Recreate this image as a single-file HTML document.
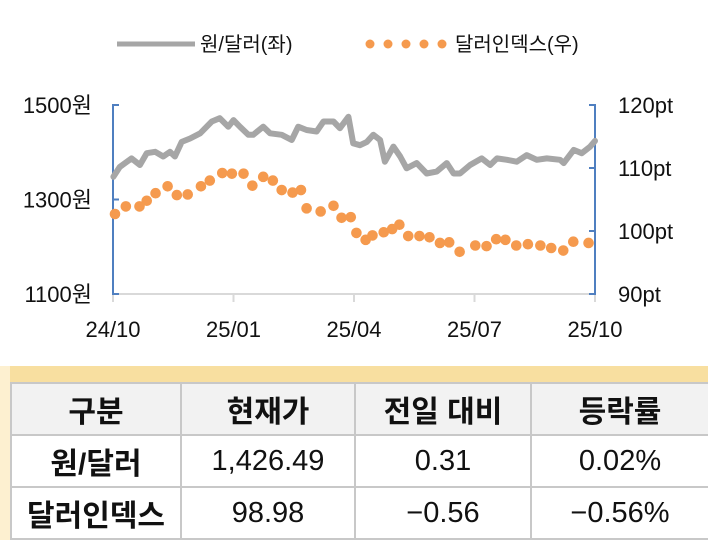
<!DOCTYPE html>
<html><head><meta charset="utf-8"><style>
body{margin:0;width:708px;height:540px;background:#fff;overflow:hidden;font-family:"Liberation Sans","Noto Sans CJK KR",sans-serif}
svg{position:absolute;left:0;top:0}
text{font-family:"Liberation Sans","Noto Sans CJK KR",sans-serif}
#tbl{position:absolute;left:0;top:366px;width:708px;height:174px}
.band{position:absolute;left:10px;top:0;width:698px;height:16px;background:#f8dfa0}
.side{position:absolute;left:0;top:0;width:10px;height:174px;background:#fdf0d0}
table{position:absolute;left:10px;top:16px;width:698px;border-collapse:collapse;table-layout:fixed}
td{border:2px solid #c8c8c8;text-align:center;font-size:29px;height:50px;padding:0;color:#111}
tr.h td{background:#f2f2f2;font-weight:bold;font-size:30px}
td.b{font-weight:bold;font-size:30px}
</style></head><body>
<svg id="chart" width="708" height="340"></svg>
<div id="tbl">
<div class="side"></div>
<div class="band"></div>
<table>
<colgroup><col style="width:170px"><col style="width:174px"><col style="width:176px"><col style="width:178px"></colgroup>
<tr class="h"><td>구분</td><td>현재가</td><td>전일 대비</td><td>등락률</td></tr>
<tr><td class="b">원/달러</td><td>1,426.49</td><td>0.31</td><td>0.02%</td></tr>
<tr><td class="b">달러인덱스</td><td>98.98</td><td>−0.56</td><td>−0.56%</td></tr>
</table></div>
<script>
const xTickLabels=["24/10","25/01","25/04","25/07","25/10"];
const xTickMonths=[0,3,6,9,12];
const leftTicks=[1100,1300,1500];
const rightTicks=[90,100,110,120];
const wonMonths=[0.01,0.17,0.46,0.67,0.84,1.05,1.25,1.42,1.54,1.71,1.92,2.17,2.46,2.66,2.87,3.00,3.16,3.37,3.49,3.74,3.91,4.20,4.45,4.61,4.82,5.07,5.24,5.49,5.65,5.86,5.98,6.15,6.32,6.48,6.65,6.77,6.98,7.15,7.31,7.56,7.81,8.06,8.31,8.48,8.64,8.89,9.18,9.39,9.56,9.81,10.05,10.30,10.55,10.80,11.13,11.22,11.47,11.67,11.88,12.0];
const wonValues=[1348,1369,1387,1373,1398,1401,1391,1401,1391,1422,1429,1440,1465,1472,1454,1468,1454,1437,1437,1454,1440,1437,1426,1454,1447,1444,1465,1465,1451,1475,1419,1415,1422,1437,1426,1380,1412,1391,1366,1377,1355,1359,1377,1355,1355,1373,1387,1373,1387,1384,1380,1394,1384,1387,1384,1377,1405,1398,1412,1424];
const dxyMonths=[0.05,0.32,0.66,0.84,1.06,1.36,1.59,1.86,2.19,2.41,2.72,2.96,3.25,3.47,3.74,3.98,4.20,4.47,4.68,4.82,5.17,5.49,5.69,5.92,6.06,6.29,6.46,6.74,6.95,7.13,7.35,7.63,7.88,8.14,8.37,8.63,9.02,9.30,9.54,9.77,10.04,10.33,10.64,10.91,11.21,11.46,11.84];
const dxyValues=[102.7,103.9,103.9,104.8,106.0,107.1,105.7,105.8,107.1,108.0,109.2,109.1,109.1,107.2,108.6,108.0,106.5,106.1,106.5,103.6,103.1,104.0,102.1,102.2,99.7,98.6,99.3,99.8,100.3,101.0,99.2,99.2,99.0,98.1,98.2,96.7,97.7,97.6,98.7,98.6,97.7,97.9,97.7,97.3,96.9,98.3,98.1];
const NS="http://www.w3.org/2000/svg";
const svg=document.getElementById('chart');
const X0=113,X1=595,YT=105,YB=294;
const xs=m=>X0+(X1-X0)*m/12;
const yl=v=>YB-(v-1100)/400*(YB-YT);
const yr=v=>YB-(v-90)/30*(YB-YT);
function mk(t,a){const e=document.createElementNS(NS,t);for(const k in a)e.setAttribute(k,a[k]);svg.appendChild(e);return e;}
let ax=mk('line',{x1:X0,x2:X1,y1:YB,y2:YB,stroke:'#d9d9d9','stroke-width':2});


xTickMonths.forEach((m,i)=>{
 let t=mk('line',{x1:xs(m),x2:xs(m),y1:YB,y2:YB+8,stroke:'#d9d9d9','stroke-width':2});
 
 
 let l=mk('text',{x:xs(m),y:337,'text-anchor':'middle','font-size':22,fill:'#111'});
 l.textContent=xTickLabels[i];
 
 
});
let la=mk('line',{x1:X0,x2:X0,y1:YT,y2:YB,stroke:'#4f7fc0','stroke-width':2});


leftTicks.forEach(v=>{
 let t=mk('line',{x1:X0-1,x2:X0+6,y1:yl(v),y2:yl(v),stroke:'#4f7fc0','stroke-width':2});
 
 
 let l=mk('text',{x:92,y:yl(v)+8,'text-anchor':'end','font-size':22,fill:'#111'});
 l.textContent=v+'원';
 
 
});
let ra=mk('line',{x1:X1,x2:X1,y1:YT,y2:YB,stroke:'#4f7fc0','stroke-width':2});


rightTicks.forEach(v=>{
 let t=mk('line',{x1:X1+1,x2:X1-6,y1:yr(v),y2:yr(v),stroke:'#4f7fc0','stroke-width':2});
 
 
 let l=mk('text',{x:618,y:yr(v)+8,'font-size':22,fill:'#111'});
 l.textContent=v+'pt';
 
 
});
let d=wonMonths.map((m,i)=>(i?'L':'M')+xs(m).toFixed(1)+' '+yl(wonValues[i]).toFixed(1)).join(' ');
let p=mk('path',{d:d,fill:'none',stroke:'#a6a6a6','stroke-width':6,'stroke-linejoin':'round','stroke-linecap':'round'});


dxyMonths.forEach((m,i)=>{
 let c=mk('circle',{cx:xs(m),cy:yr(dxyValues[i]),r:5.3,fill:'#f59a4e'});
 
 
});
let lg=mk('line',{x1:117,x2:195,y1:44,y2:44,stroke:'#a6a6a6','stroke-width':5});


let lt=mk('text',{x:200,y:51,'font-size':20,fill:'#111'});lt.textContent='원/달러(좌)';


[370,388,406,424,442].forEach(x=>{let c=mk('circle',{cx:x,cy:44,r:4.5,fill:'#f59a4e'});
 
 });
let lt2=mk('text',{x:455,y:51,'font-size':20,fill:'#111'});lt2.textContent='달러인덱스(우)';


</script>
</body></html>
